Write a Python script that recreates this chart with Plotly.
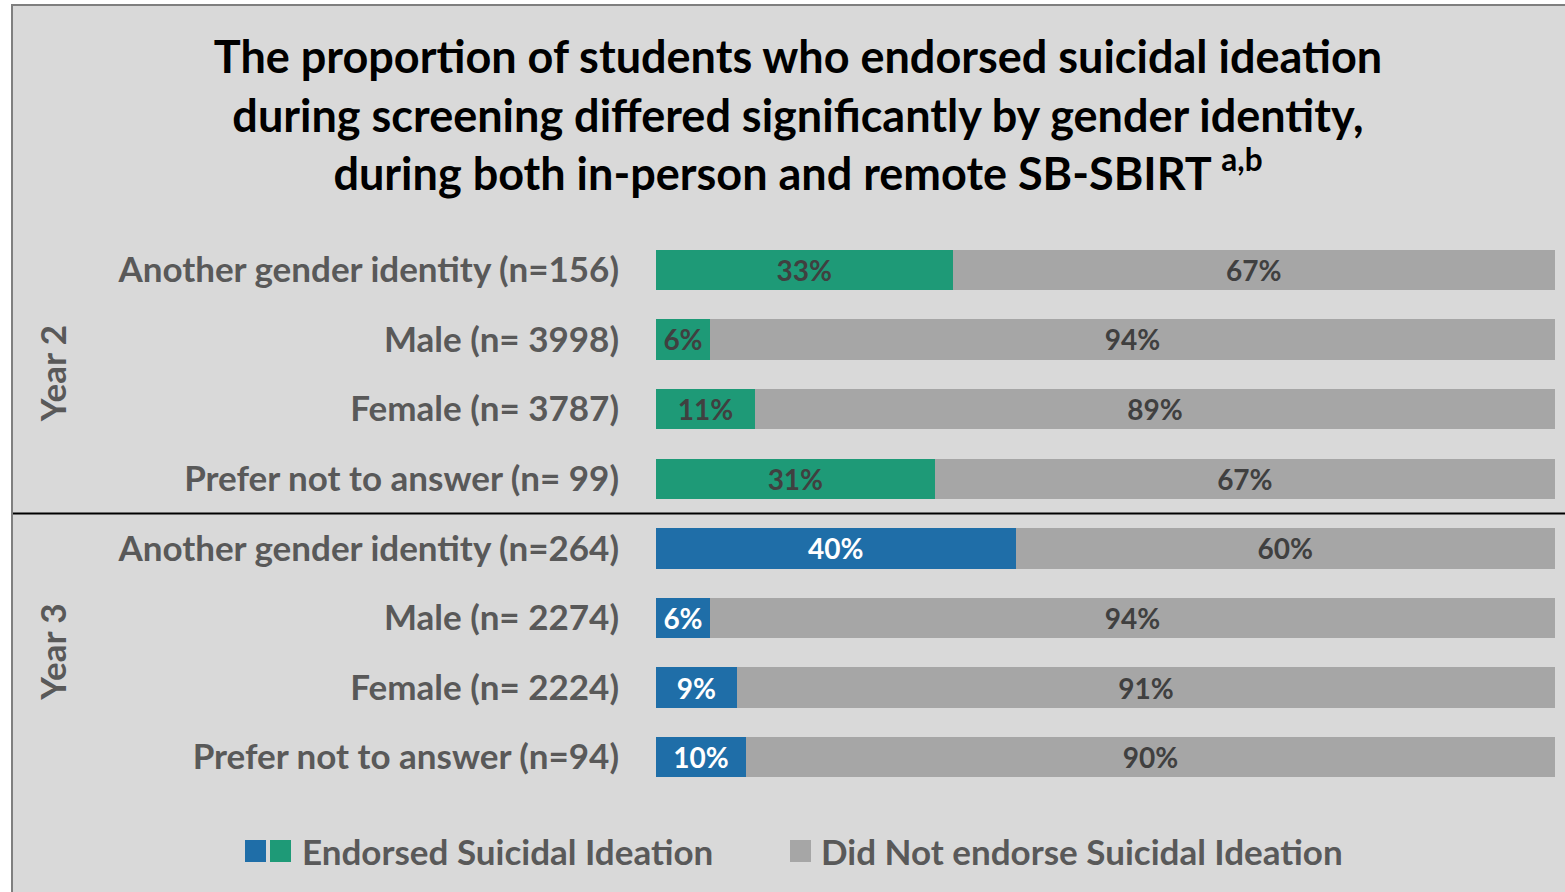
import plotly.graph_objects as go

# rows, top to bottom
categories = [
    "Another gender identity (n=156)",
    "Male (n= 3998)",
    "Female (n= 3787)",
    "Prefer not to answer (n= 99)",
    "Another gender identity (n=264)",
    "Male (n= 2274)",
    "Female (n= 2224)",
    "Prefer not to answer (n=94)",
]
year_of_row = ["Year 2"] * 4 + ["Year 3"] * 4
endorsed = [33, 6, 11, 31, 40, 6, 9, 10]
not_endorsed = [67, 94, 89, 69, 60, 94, 91, 90]
not_endorsed_labels = ["67%", "94%", "89%", "67%", "60%", "94%", "91%", "90%"]

GREEN = "#1e9a77"
BLUE = "#1f6ea8"
GREY = "#a6a6a6"
BG = "#d9d9d9"
TXT = "#595959"
FONT = "Lato"

W, H = 1565, 892
ML, MR, MT, MB = 656, 10, 235, 100


def px2x(p):
    return (p - ML) / (W - ML - MR)


def py2y(p):
    return (H - MB - p) / (H - MT - MB)


bar_colors = [GREEN if y == "Year 2" else BLUE for y in year_of_row]
txt_colors = ["#404040" if y == "Year 2" else "white" for y in year_of_row]

fig = go.Figure()
fig.add_trace(go.Bar(
    y=categories, x=endorsed, orientation="h",
    marker=dict(color=bar_colors, line=dict(width=0)),
    text=[f"{v}%" for v in endorsed],
    textposition="inside", insidetextanchor="middle", textangle=0,
    textfont=dict(family=FONT, size=28, weight="bold", color=txt_colors),
    name="Endorsed Suicidal Ideation", showlegend=False,
))
fig.add_trace(go.Bar(
    y=categories, x=not_endorsed, orientation="h",
    marker=dict(color=GREY, line=dict(width=0)),
    text=not_endorsed_labels,
    textposition="inside", insidetextanchor="middle", textangle=0,
    textfont=dict(family=FONT, size=28, weight="bold", color="#404040"),
    name="Did Not endorse Suicidal Ideation", showlegend=False,
))

shapes = [
    # grey panel with border
    dict(type="rect", xref="paper", yref="paper",
         x0=px2x(12), x1=px2x(1580), y0=py2y(905), y1=py2y(5),
         fillcolor=BG, line=dict(color="#7f7f7f", width=2), layer="below"),
    # separator between years
    dict(type="line", xref="paper", yref="y",
         x0=px2x(13), x1=px2x(1565), y0=3.5, y1=3.5,
         line=dict(color="black", width=2)),
    # legend swatches
    dict(type="rect", xref="paper", yref="paper",
         x0=px2x(245), x1=px2x(266), y0=py2y(862), y1=py2y(840),
         fillcolor=BLUE, line=dict(width=0)),
    dict(type="rect", xref="paper", yref="paper",
         x0=px2x(270), x1=px2x(291), y0=py2y(862), y1=py2y(840),
         fillcolor=GREEN, line=dict(width=0)),
    dict(type="rect", xref="paper", yref="paper",
         x0=px2x(790), x1=px2x(811), y0=py2y(862), y1=py2y(840),
         fillcolor=GREY, line=dict(width=0)),
]

annotations = [
    dict(text="Year 2", xref="paper", yref="y", x=px2x(52), y=1.5,
         xanchor="center", yanchor="middle", textangle=-90, showarrow=False,
         font=dict(family=FONT, size=35, weight="bold", color=TXT)),
    dict(text="Year 3", xref="paper", yref="y", x=px2x(52), y=5.5,
         xanchor="center", yanchor="middle", textangle=-90, showarrow=False,
         font=dict(family=FONT, size=35, weight="bold", color=TXT)),
    dict(text="Endorsed Suicidal Ideation", xref="paper", yref="paper",
         x=px2x(300), y=py2y(851), xanchor="left", yanchor="middle", showarrow=False,
         font=dict(family=FONT, size=35, weight="bold", color=TXT)),
    dict(text="Did Not endorse Suicidal Ideation", xref="paper", yref="paper",
         x=px2x(819), y=py2y(851), xanchor="left", yanchor="middle", showarrow=False,
         font=dict(family=FONT, size=35, weight="bold", color=TXT)),
]

fig.update_layout(
    width=W, height=H,
    margin=dict(l=ML, r=MR, t=MT, b=MB),
    paper_bgcolor="white", plot_bgcolor="rgba(0,0,0,0)",
    barmode="stack", bargap=0.42,
    title=dict(
        text="The proportion of students who endorsed suicidal ideation<br>"
             "during screening differed significantly by gender identity,<br>"
             "during both in-person and remote SB-SBIRT <sup>a,b</sup>",
        x=798 / W, xanchor="center", xref="container",
        y=1 - 73 / H, yanchor="middle",
        font=dict(family=FONT, size=45, weight="bold", color="black"),
    ),
    xaxis=dict(range=[0, 100], visible=False, fixedrange=True),
    yaxis=dict(
        categoryorder="array", categoryarray=categories, autorange="reversed",
        showgrid=False, zeroline=False, showline=False, ticks="",
        ticklabelstandoff=36, fixedrange=True,
        tickfont=dict(family=FONT, size=35, weight="bold", color=TXT),
    ),
    shapes=shapes,
    annotations=annotations,
    showlegend=False,
)

fig.write_html(
    "out.html",
    config={"displayModeBar": False},
    post_script="document.body.style.margin='0';document.body.style.overflow='hidden';",
)
